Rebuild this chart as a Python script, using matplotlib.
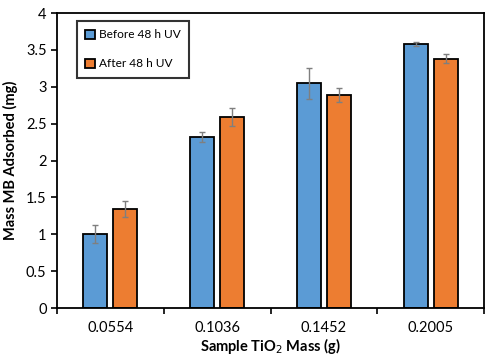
import matplotlib
matplotlib.use("Agg")
import matplotlib.pyplot as plt
import numpy as np

plt.rcParams['font.family'] = ['Lato', 'DejaVu Sans']

categories = ["0.0554", "0.1036", "0.1452", "0.2005"]
before = [1.00, 2.32, 3.05, 3.58]
before_err = [0.12, 0.07, 0.21, 0.03]
after = [1.34, 2.59, 2.89, 3.38]
after_err = [0.11, 0.12, 0.10, 0.06]
series_labels = ["Before 48 h UV", "After 48 h UV"]

fig = plt.figure(figsize=(5, 3.62), dpi=100)
ax = fig.add_axes([0.114, 0.149, 0.854, 0.815])

x = np.arange(len(categories))
w = 0.225
off = 0.14
ekw = dict(ecolor="#7f7f7f", elinewidth=1.0, capsize=2, capthick=1.0)
ax.bar(x - off, before, w, yerr=before_err, color="#5B9BD5", edgecolor="black",
       linewidth=1.3, label=series_labels[0], error_kw=ekw, zorder=2)
ax.bar(x + off, after, w, yerr=after_err, color="#ED7D31", edgecolor="black",
       linewidth=1.3, label=series_labels[1], error_kw=ekw, zorder=2)

ax.set_xlim(-0.5, len(categories) - 0.5)
ax.set_ylim(0, 4)
ax.set_yticks(np.arange(0, 4.01, 0.5))
ax.set_yticklabels(["0", "0.5", "1", "1.5", "2", "2.5", "3", "3.5", "4"])
ax.set_xticks(x)
ax.set_xticklabels(categories)
ax.set_xticks(np.arange(-0.5, len(categories), 1.0), minor=True)
ax.tick_params(axis="x", which="major", length=0, pad=9, labelsize=10.5)
ax.tick_params(axis="x", which="minor", length=4, width=1.2, direction="out")
ax.tick_params(axis="y", length=4, width=1.2, direction="out", labelsize=10.5)

for s in ax.spines.values():
    s.set_linewidth(1.3)

ax.set_ylabel("Mass MB Adsorbed (mg)", fontweight="bold", fontsize=10.5, labelpad=6)
ax.set_xlabel("Sample TiO$_2$ Mass (g)", fontweight="bold", fontsize=10.5, labelpad=1)

leg = ax.legend(loc="upper left", bbox_to_anchor=(0.047, 0.973), frameon=True, fancybox=False,
                edgecolor="black", fontsize=8.6, handlelength=0.8, handleheight=0.8,
                handletextpad=0.3, labelspacing=1.5, borderpad=0.7, borderaxespad=0)
leg.get_frame().set_linewidth(1.5)

fig.savefig("out.png", dpi=100)
